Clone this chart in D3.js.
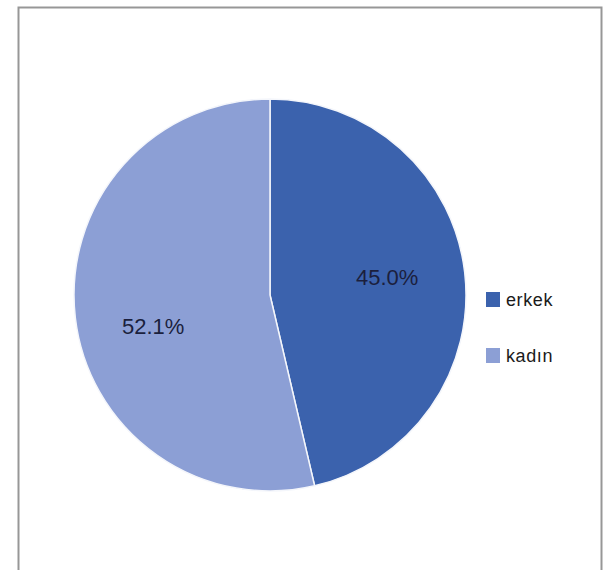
<!DOCTYPE html>
<html>
<head>
<meta charset="utf-8">
<script src="https://cdn.jsdelivr.net/npm/d3@7"></script>
<style>
  body { margin: 0; background: #fff; }
  svg { display: block; }
</style>
</head>
<body>
<div id="chart"></div>
<script>
"use strict"

// data
let categories = ["erkek", "kadın"];
let percentages = [45.0, 52.1];
let sliceColors = ["#3b62ad", "#8c9fd5"];

let width = 606,
    height = 570;

let svg = d3.select("#chart").append("svg")
    .attr("width", width)
    .attr("height", height);

svg.append("rect")
    .attr("width", width)
    .attr("height", height)
    .style("fill", "#fff");

// chart frame (bottom edge runs off the image)
svg.append("rect")
    .attr("x", 18.5)
    .attr("y", 7.5)
    .attr("width", 583)
    .attr("height", 620)
    .style("fill", "none")
    .style("stroke", "#979797")
    .style("stroke-width", 2);

let cx = 270,
    cy = 295,
    radius = 196;

let pie = d3.pie()
    .sort(null)
    .value(d => d);

let arc = d3.arc()
    .innerRadius(0)
    .outerRadius(radius);

let pieGroup = svg.append("g")
    .attr("transform", "translate(" + cx + "," + cy + ")");

let slices = pie(percentages);

pieGroup.selectAll("path")
    .data(slices)
    .enter().append("path")
    .attr("d", arc)
    .style("fill", (d, i) => sliceColors[i])
    .style("stroke", "#f4f6fb")
    .style("stroke-width", 1.5);

/* label spot: a bit before the middle of each slice, like excel puts it */
function labelPosition(d) {
    let angle = d.startAngle + (d.endAngle - d.startAngle) * 0.47;
    let r = radius * 0.61;
    return [Math.sin(angle) * r, -Math.cos(angle) * r + 6];
}

pieGroup.selectAll("text")
    .data(slices)
    .enter().append("text")
    .attr("transform", d => "translate(" + labelPosition(d) + ")")
    .attr("dy", "0.35em")
    .style("text-anchor", "middle")
    .style("font-family", "Liberation Sans, Arial, sans-serif")
    .style("font-size", "22px")
    .style("fill", "#1b1f3d")
    .text(d => d.data.toFixed(1) + "%");

// legend
let legend = svg.append("g")
    .attr("transform", "translate(486, 292)");

let legendItems = legend.selectAll("g")
    .data(categories)
    .enter().append("g")
    .attr("transform", (d, i) => "translate(0," + (i * 56) + ")");

legendItems.append("rect")
    .attr("width", 14)
    .attr("height", 15)
    .style("fill", (d, i) => sliceColors[i]);

legendItems.append("text")
    .attr("x", 20)
    .attr("y", 8)
    .attr("dy", "0.35em")
    .style("font-family", "Liberation Sans, Arial, sans-serif")
    .style("font-size", "18px")
    .style("letter-spacing", "0.6px")
    .style("fill", "#1a1a1a")
    .text(d => d);
</script>
</body>
</html>
